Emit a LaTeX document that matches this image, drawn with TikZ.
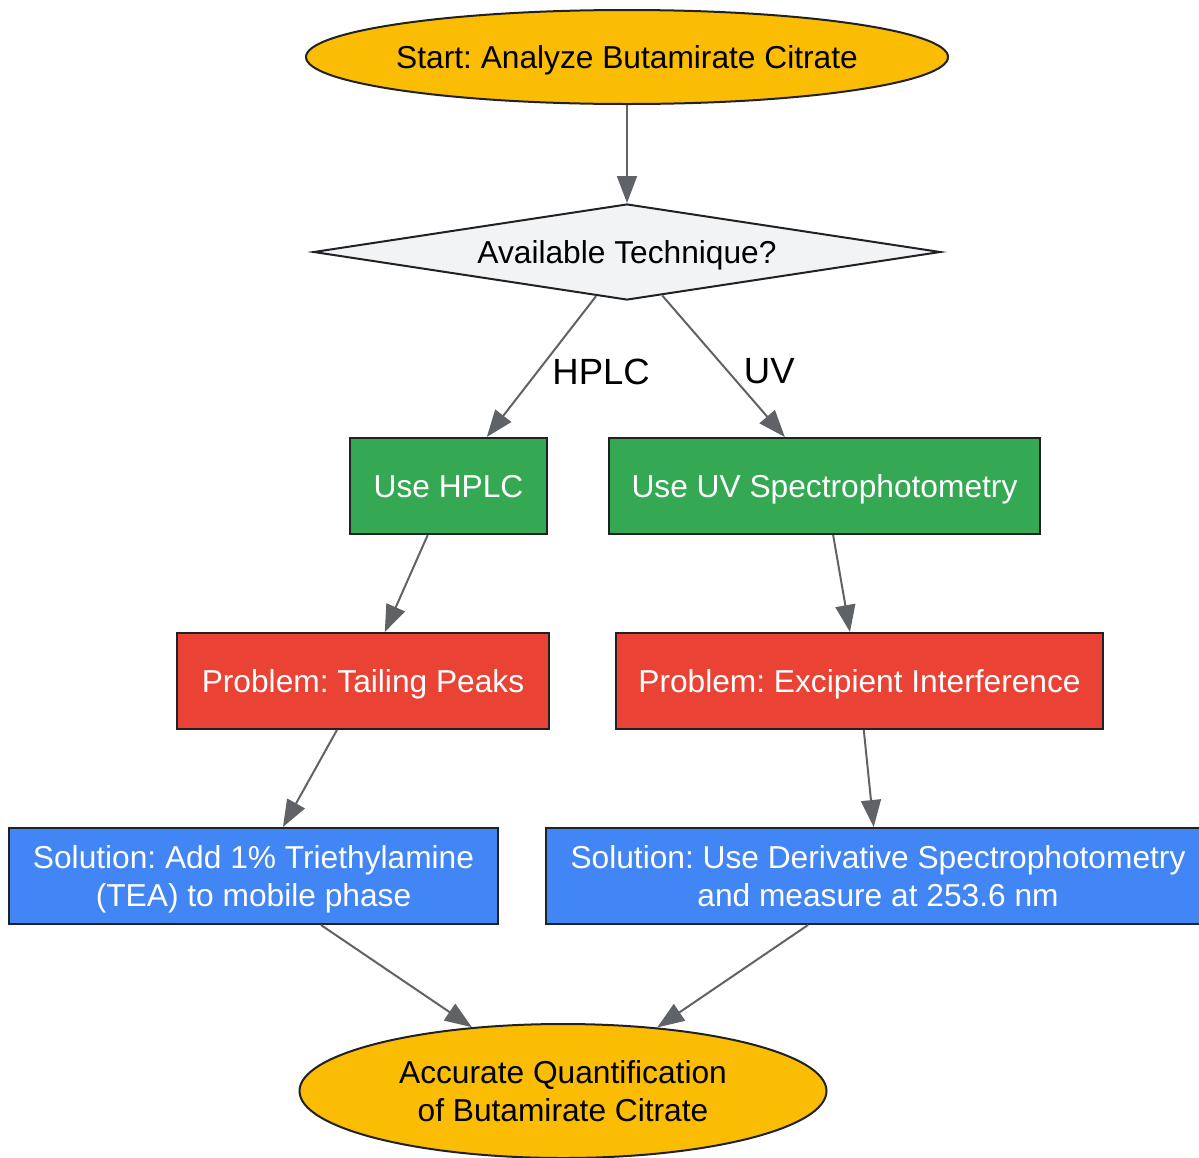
\documentclass[tikz,border=0pt]{standalone}
\usepackage{fontspec}
\setmainfont{Liberation Sans}
\usetikzlibrary{shapes.geometric,arrows.meta}
\definecolor{cyel}{HTML}{FBBC04}
\definecolor{cgray}{HTML}{F1F3F4}
\definecolor{cgreen}{HTML}{34A853}
\definecolor{cred}{HTML}{EA4335}
\definecolor{cblue}{HTML}{4285F4}
\definecolor{cborder}{HTML}{202124}
\definecolor{cedge}{HTML}{5F6368}
\tikzset{
  base/.style={draw=cborder, line width=2pt, inner sep=0pt, align=center,
    text depth=0pt, font=\fontsize{31.7}{38}\selectfont\frenchspacing},
  oneline/.style={text height=23pt},
  term/.style={base, ellipse, fill=cyel, text=black},
  decision/.style={base, oneline, diamond, aspect=6.5, fill=cgray, text=black},
  boxg/.style={base, oneline, rectangle, fill=cgreen, text=white, minimum height=96pt},
  boxr/.style={base, oneline, rectangle, fill=cred, text=white, minimum height=96pt},
  boxb/.style={base, rectangle, fill=cblue, text=white, minimum height=96pt},
  conn/.style={draw=cedge, line width=2pt, -{Triangle[length=27pt,width=20pt]}},
  lbl/.style={inner sep=0pt, anchor=west, text=black, font=\fontsize{36.5}{40}\selectfont}
}
\begin{document}
\begin{tikzpicture}[x=1pt,y=-1pt]
\useasboundingbox (0,0) rectangle (1199,1157);
\clip (0,0) rectangle (1199,1157);
\node[term, oneline, minimum width=642pt, minimum height=94pt] (s) at (627,57) {\makebox[0pt][c]{Start: Analyze Butamirate Citrate}};
\node[decision, minimum width=627pt, minimum height=96pt] (d) at (627,252) {Available Technique?};
\node[boxg, minimum width=197pt] (h) at (448.5,486) {Use HPLC};
\node[boxg, minimum width=431pt] (u) at (824.5,486) {Use UV Spectrophotometry};
\node[boxr, minimum width=372pt] (pt) at (363,681) {Problem: Tailing Peaks};
\node[boxr, minimum width=487pt] (pe) at (859.5,681) {Problem: Excipient Interference};
\node[boxb, minimum width=489pt] (st) at (253.5,876) {Solution: Add 1\% Triethylamine\\(TEA) to mobile phase};
\node[boxb, minimum width=664pt] (sd) at (878,876) {Solution: Use Derivative Spectrophotometry\\and measure at 253.6 nm};
\node[term, minimum width=527pt, minimum height=134pt] (e) at (563,1091) {Accurate Quantification\\of Butamirate Citrate};

\draw[conn] (s.south) -- (d.north);
\draw[conn] (d.235) -- node[lbl, pos=0.536, xshift=14pt] {HPLC} (h.52);
\draw[conn] (d.309) -- node[lbl, pos=0.536, xshift=15pt] {UV} (u.129);
\draw[conn] (h.247) -- (pt.66);
\draw[conn] (u.280) -- (pe.101);
\draw[conn] (pt.242) -- (st.59.5);
\draw[conn] (pe.275) -- (sd.95.7);
\draw[conn] (st.324.3) -- (e.145);
\draw[conn] (sd.215.5) -- (e.34.4);
\end{tikzpicture}
\end{document}
